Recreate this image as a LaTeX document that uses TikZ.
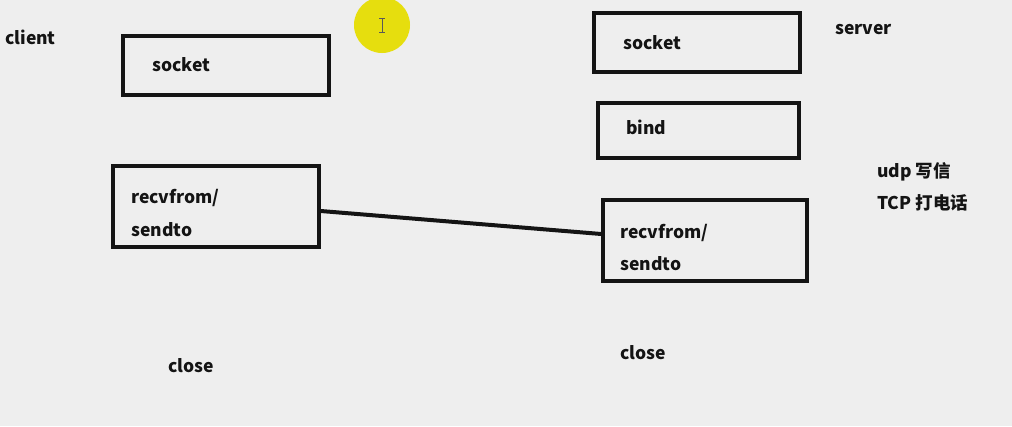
\documentclass[tikz,border=0pt]{standalone}
\usepackage{fontspec}
\setmainfont{Noto Sans CJK SC}
\definecolor{bg}{RGB}{238,238,238}
\definecolor{hl}{RGB}{230,222,14}
\definecolor{ink}{RGB}{20,20,20}
\begin{document}
\begin{tikzpicture}[x=1pt,y=-1pt,
  box/.style={draw=ink,line width=3.5pt,inner sep=0pt,minimum height=#1},
  lbl/.style={anchor=west,inner sep=0pt,text=ink,font=\fontsize{17.5}{20}\selectfont\bfseries},
  link/.style={draw=ink,line width=4pt,line cap=round}]
\fill[bg] (0,0) rectangle (1012,426);
\useasboundingbox (0,0) rectangle (1012,426);
% cursor highlight
\fill[hl] (382,25) circle (28);
\draw[gray!70!black,line width=0.8pt] (382,18) -- (382,32) (379,18) -- (385,18) (379,32) -- (385,32);
% client side
\node[lbl] (client) at (5,37) {client};
\node[box=59pt,minimum width=206pt] (cs) at (226,65.5) {};
\node[lbl] (cst) at (152,65) {socket};
\node[box=81pt,minimum width=206pt] (cr) at (216,206.5) {};
\node[lbl] (cr1) at (131,198) {recvfrom/};
\node[lbl] (cr2) at (131,230) {sendto};
\node[lbl] (cc) at (168,366) {close};
% server side
\node[box=59pt,minimum width=206pt] (ss) at (697,42.5) {};
\node[lbl] (sst) at (623,43) {socket};
\node[lbl] (server) at (835,30) {server};
\node[box=55pt,minimum width=201pt] (sb) at (698.5,130.5) {};
\node[lbl] (sbt) at (626,127) {bind};
\node[lbl] (udp) at (877,172) {udp 写信};
\node[lbl] (tcp) at (877,203) {TCP 打电话};
\node[box=81pt,minimum width=204pt] (sr) at (705,240.5) {};
\node[lbl] (sr1) at (620,233) {recvfrom/};
\node[lbl] (sr2) at (620,264) {sendto};
\node[lbl] (sc) at (620,353) {close};
% connector
\draw[link] ([yshift=-4.5pt]cr.east) -- ([yshift=6.5pt]sr.west);
\end{tikzpicture}
\end{document}
